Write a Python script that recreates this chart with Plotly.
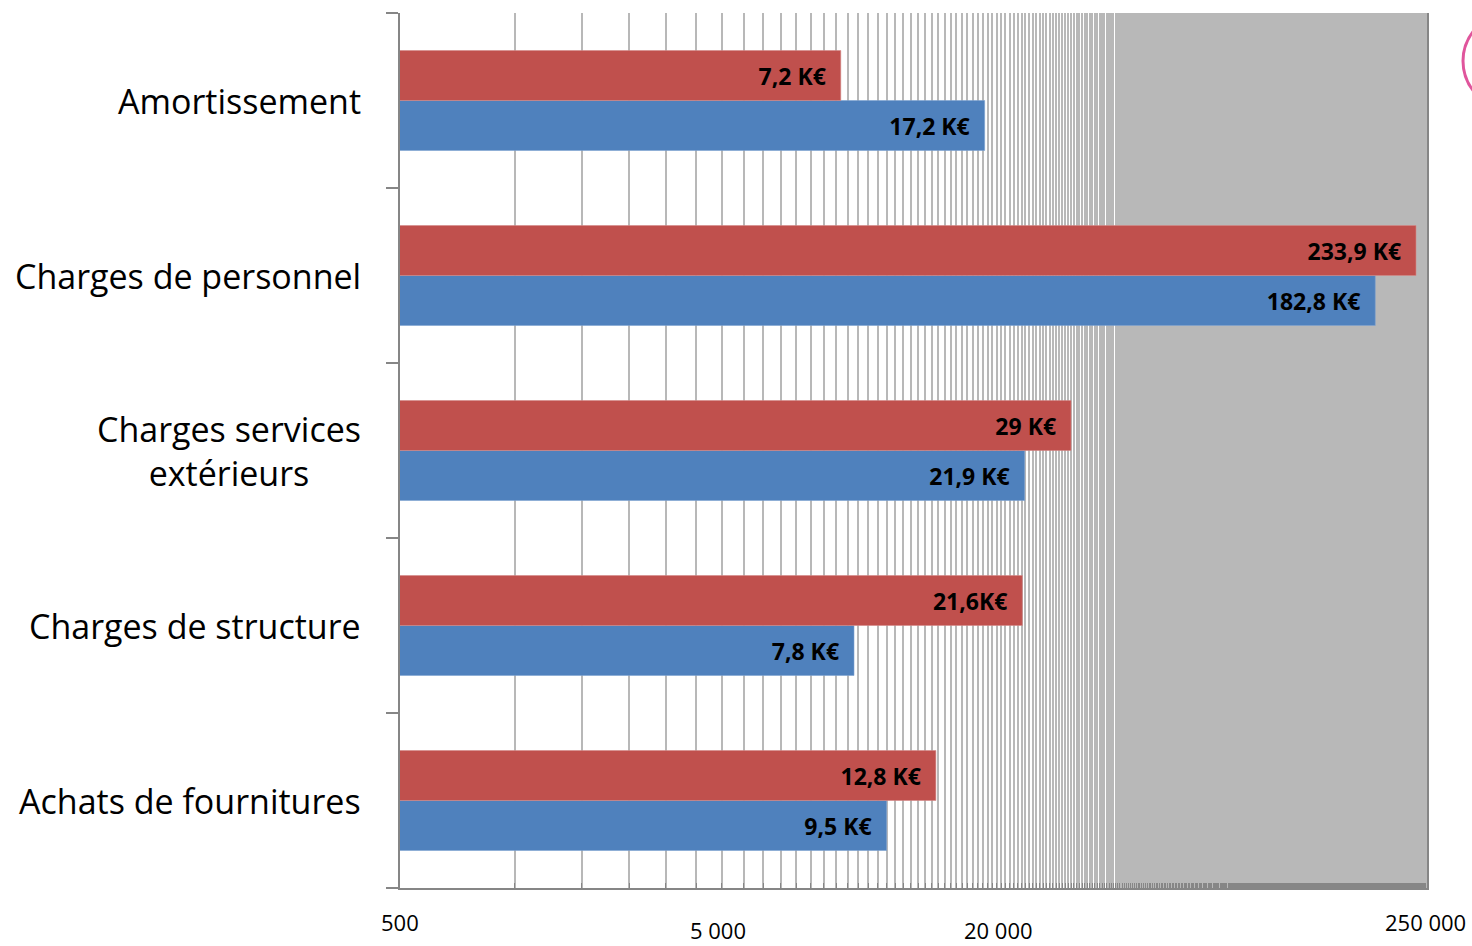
import numpy as np
import plotly.graph_objects as go

# ---- data ----
categories = ["Amortissement", "Charges de personnel", "Charges services extérieurs",
              "Charges de structure", "Achats de fournitures"]
category_labels = ["Amortissement", "Charges de personnel", "Charges services<br>extérieurs",
                   "Charges de structure", "Achats de fournitures"]
red_values = [7200, 233900, 29000, 21600, 12800]
red_labels = ["7,2 K€", "233,9 K€", "29 K€", "21,6K€", "12,8 K€"]
blue_values = [17200, 182800, 21900, 7800, 9500]
blue_labels = ["17,2 K€", "182,8 K€", "21,9 K€", "7,8 K€", "9,5 K€"]
axis_min, axis_max, grid_step = 500, 250000, 500
x_tick_labels = ["500", "5 000", "20 000", "250 000"]

# ---- styling ----
FONT = "Open Sans, Lato, sans-serif"
RED = "#C0504D"
BLUE = "#4F81BD"
AXIS = "#868686"
GRID = "#b8b8b8"

order = list(reversed(categories))
grid_vals = list(range(axis_min, axis_max + 1, grid_step))

fig = go.Figure()
fig.add_trace(go.Bar(
    y=categories, x=blue_values, orientation="h", name="blue",
    marker=dict(color=BLUE, line=dict(color="#7fa3d0", width=0.6)),
    text=blue_labels, texttemplate="%{text}\u00a0\u00a0", textposition="inside",
    insidetextanchor="end", textfont=dict(family=FONT, size=23, color="black", weight="bold"),
    cliponaxis=False,
))
fig.add_trace(go.Bar(
    y=categories, x=red_values, orientation="h", name="red",
    marker=dict(color=RED, line=dict(color="#d38a88", width=0.6)),
    text=red_labels, texttemplate="%{text}\u00a0\u00a0", textposition="inside",
    insidetextanchor="end", textfont=dict(family=FONT, size=23, color="black", weight="bold"),
    cliponaxis=False,
))

fig.update_layout(
    width=1472, height=946, autosize=False,
    margin=dict(l=400, r=45, t=13, b=58),
    paper_bgcolor="white", plot_bgcolor="white",
    barmode="group", bargap=0.4286, bargroupgap=0,
    showlegend=False,
    font=dict(family=FONT, color="black"),
)
fig.update_xaxes(
    type="log", range=[np.log10(axis_min), np.log10(axis_max)],
    tickvals=grid_vals, showticklabels=False,
    showgrid=True, gridcolor=GRID, gridwidth=1.5,
    ticks="inside", ticklen=5, tickcolor=AXIS, tickwidth=1,
    showline=True, linecolor=AXIS, linewidth=2,
    zeroline=False,
)
fig.update_yaxes(
    type="category", categoryorder="array", categoryarray=order,
    showticklabels=False, tickson="boundaries",
    ticks="outside", ticklen=12, tickcolor=AXIS, tickwidth=2,
    showline=True, linecolor=AXIS, linewidth=2, mirror=True,
    showgrid=False, zeroline=False,
)

# category labels (centered multi-line like the original)
for cat, lab in zip(categories, category_labels):
    fig.add_annotation(
        x=0, xref="paper", xanchor="right", xshift=-37,
        y=cat, yref="y", yanchor="middle",
        text=lab, showarrow=False, align="center",
        font=dict(family=FONT, size=34, color="black"),
    )

# x-axis tick labels as placed in the original picture
tick_pos_x = [0.0, 0.3096, 0.5823, 0.999]
tick_pos_y = [-0.039, -0.0663, -0.0663, -0.039]
tick_anchor_y = ["middle", "bottom", "bottom", "middle"]
for lab, px, py, ya in zip(x_tick_labels, tick_pos_x, tick_pos_y, tick_anchor_y):
    fig.add_annotation(
        x=px, xref="paper", y=py, yref="paper", xanchor="center", yanchor=ya,
        text=lab, showarrow=False, font=dict(family=FONT, size=22, color="black"),
        borderpad=0,
    )

# partial pink circle at the right edge
fig.add_shape(
    type="circle", xref="paper", yref="paper",
    xsizemode="pixel", ysizemode="pixel", xanchor=1.0, yanchor=1.0,
    x0=36, x1=156, y0=5, y1=-101,
    line=dict(color="#e0559c", width=3), fillcolor="rgba(0,0,0,0)",
)

fig.write_html("out.html", config={"displayModeBar": False},
               post_script="document.body.style.margin='0';")
